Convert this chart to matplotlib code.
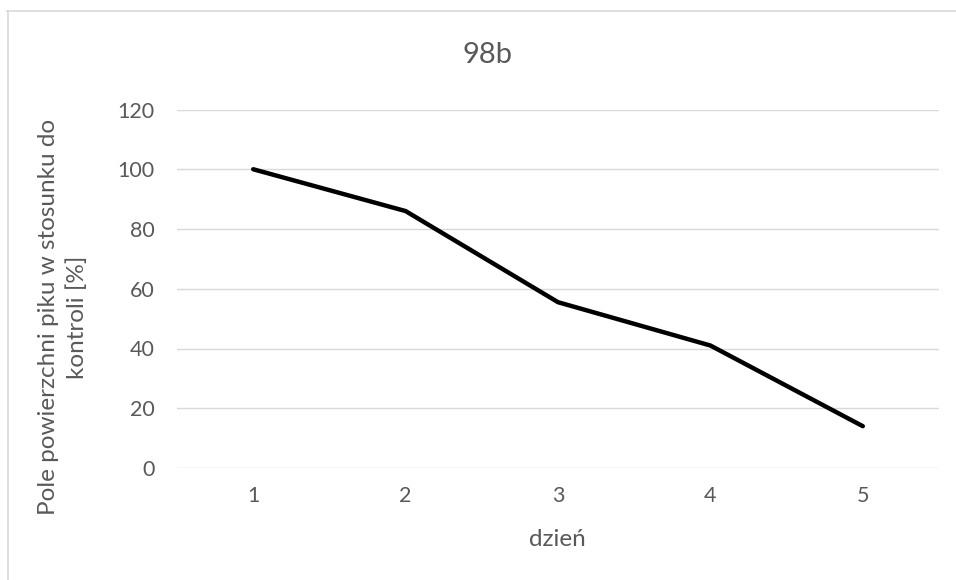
import matplotlib.pyplot as plt
from matplotlib.lines import Line2D

# dane
dni = [1, 2, 3, 4, 5]
pole = [100, 86, 55.5, 41, 14]
y_ticks = [0, 20, 40, 60, 80, 100, 120]

plt.rcParams['font.family'] = ['Lato', 'DejaVu Sans']
szary = '#595959'

fig = plt.figure(figsize=(9.56, 5.8), dpi=100)
W, H = 956, 580
ax = fig.add_axes([177 / W, 1 - 468 / H, (939 - 177) / W, (468 - 109.5) / H])

ax.plot(dni, pole, color='black', linewidth=3.2, solid_capstyle='round')

ax.set_xlim(0.5, 5.5)
ax.set_ylim(0, 120)
ax.set_yticks(y_ticks)
ax.set_xticks(dni)
ax.grid(axis='y', color='#d9d9d9', linewidth=1)
ax.set_axisbelow(True)
for s in ax.spines.values():
    s.set_visible(False)
ax.tick_params(length=0, labelsize=15.5, labelcolor=szary)
ax.tick_params(axis='x', pad=13)
ax.tick_params(axis='y', pad=16)

# opisy osi i tytul
fig.text(557 / W, 1 - 540 / H, 'dzień', fontsize=17.5, color=szary,
         ha='center', va='center')
fig.text(63 / W, 1 - 317 / H, 'Pole powierzchni piku w stosunku do\nkontroli [%]',
         fontsize=17.5, color=szary, rotation=90, ha='center', va='center',
         linespacing=1.45, multialignment='center')
fig.text(487 / W, 1 - 55 / H, '98b', fontsize=21, color=szary,
         ha='center', va='center')

# ramka wykresu (widoczna tylko gora i lewa strona)
fig.add_artist(Line2D([7 / W, 1], [1 - 10.5 / H, 1 - 10.5 / H],
                      color='#d9d9d9', linewidth=1.2))
fig.add_artist(Line2D([7.5 / W, 7.5 / W], [0, 1 - 10.5 / H],
                      color='#d9d9d9', linewidth=1.2))

fig.savefig('out.png', dpi=100)
